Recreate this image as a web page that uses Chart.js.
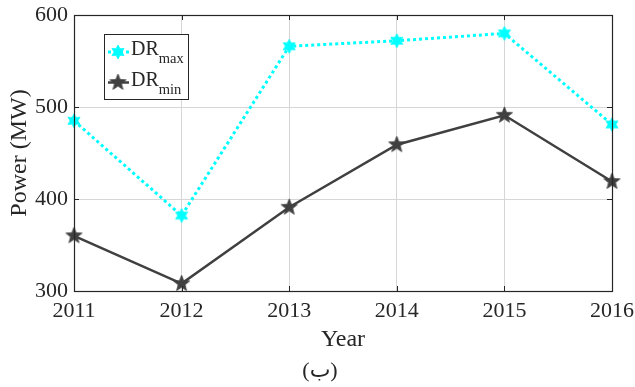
<!DOCTYPE html>
<html>
<head>
<meta charset="utf-8">
<script src="https://cdn.jsdelivr.net/npm/chart.js@4/dist/chart.umd.min.js"></script>
<style>
  html, body { margin: 0; padding: 0; background: #fff; }
  #wrap { width: 635px; height: 387px; position: relative; }
</style>
</head>
<body>
<div id="wrap"><canvas id="c" width="635" height="387"></canvas></div>
<script>
// Yearly power demand range (MW)
const years = ['2011', '2012', '2013', '2014', '2015', '2016'];
const drMax = [485, 382, 566, 572, 580, 481];
const drMin = [360, 308, 391, 459, 491, 419];
const yTicks = [300, 400, 500, 600];
const seriesNames = [['DR', 'max'], ['DR', 'min']];
const xTitle = 'Year';
const yTitle = 'Power (MW)';
const caption = '(ب)';

const SERIF = '"Liberation Serif", "Times New Roman", serif';
const INK = '#262626';
const CYAN = '#00ffff';
const DARK = '#404040';

// Filled star marker rendered to a small canvas for use as a pointStyle
function starImage(points, outer, inner, color) {
  const s = Math.ceil(outer * 2 + 4);
  const cv = document.createElement('canvas');
  cv.width = s; cv.height = s;
  const g = cv.getContext('2d');
  g.translate(s / 2, s / 2);
  g.beginPath();
  for (let i = 0; i < points * 2; i++) {
    const r = i % 2 === 0 ? outer : inner;
    const a = -Math.PI / 2 + i * Math.PI / points;
    const x = r * Math.cos(a), y = r * Math.sin(a);
    if (i === 0) g.moveTo(x, y); else g.lineTo(x, y);
  }
  g.closePath();
  g.fillStyle = color;
  g.fill();
  g.lineWidth = 0.8;
  g.strokeStyle = color;
  g.stroke();
  return cv;
}
const hexStar = starImage(6, 7, 3.8, CYAN);
const pentStar = starImage(5, 8.5, 3.6, DARK);

// Frame, inward ticks, legend and caption
const decor = {
  id: 'decor',
  afterDraw(chart) {
    const { ctx, chartArea: a, scales } = chart;
    ctx.save();
    // inward tick marks on all four sides
    ctx.strokeStyle = INK;
    ctx.lineWidth = 1;
    const tl = 5;
    ctx.beginPath();
    scales.x.ticks.forEach((t, i) => {
      const x = Math.round(scales.x.getPixelForTick(i)) + 0.5;
      ctx.moveTo(x, a.bottom); ctx.lineTo(x, a.bottom - tl);
      ctx.moveTo(x, a.top); ctx.lineTo(x, a.top + tl);
    });
    scales.y.ticks.forEach((t, i) => {
      const y = Math.round(scales.y.getPixelForTick(i)) + 0.5;
      ctx.moveTo(a.left, y); ctx.lineTo(a.left + tl, y);
      ctx.moveTo(a.right, y); ctx.lineTo(a.right - tl, y);
    });
    ctx.stroke();
    // axes box
    ctx.strokeStyle = INK;
    ctx.lineWidth = 1.2;
    ctx.strokeRect(Math.round(a.left) + 0.5, Math.round(a.top) + 0.5,
                   Math.round(a.right - a.left), Math.round(a.bottom - a.top));

    // legend
    const lx = 104, ly = 34, lw = 84, lh = 65;
    ctx.fillStyle = '#fff';
    ctx.fillRect(lx, ly, lw, lh);
    ctx.strokeStyle = INK;
    ctx.lineWidth = 1;
    ctx.strokeRect(lx + 0.5, ly + 0.5, lw, lh);
    const rows = [
      { y: 52, color: CYAN, dash: [3, 3], width: 3, img: hexStar },
      { y: 82.5, color: DARK, dash: [], width: 2.5, img: pentStar }
    ];
    rows.forEach((r, i) => {
      ctx.save();
      ctx.strokeStyle = r.color;
      ctx.lineWidth = r.width;
      ctx.setLineDash(r.dash);
      ctx.beginPath();
      ctx.moveTo(lx + 4, r.y); ctx.lineTo(lx + 25, r.y);
      ctx.stroke();
      ctx.restore();
      ctx.drawImage(r.img, lx + 14 - r.img.width / 2, r.y - r.img.height / 2);
      ctx.fillStyle = INK;
      ctx.textBaseline = 'alphabetic';
      ctx.textAlign = 'left';
      ctx.font = '20px ' + SERIF;
      const base = r.y + 3;
      ctx.fillText(seriesNames[i][0], lx + 27, base);
      const w = ctx.measureText(seriesNames[i][0]).width;
      ctx.font = '14.5px ' + SERIF;
      ctx.fillText(seriesNames[i][1], lx + 27 + w, base + 8);
    });

    // caption
    ctx.fillStyle = INK;
    ctx.font = '22px ' + SERIF + ', "DejaVu Sans"';
    ctx.textAlign = 'center';
    ctx.textBaseline = 'middle';
    ctx.fillText(caption, 320, 371);
    ctx.restore();
  }
};

new Chart(document.getElementById('c'), {
  type: 'line',
  data: {
    labels: years,
    datasets: [
      {
        label: seriesNames[0].join(''),
        data: drMax,
        borderColor: CYAN,
        backgroundColor: CYAN,
        borderWidth: 3,
        borderDash: [3, 3],
        pointStyle: hexStar,
        pointRadius: 7,
        tension: 0
      },
      {
        label: seriesNames[1].join(''),
        data: drMin,
        borderColor: DARK,
        backgroundColor: DARK,
        borderWidth: 2.5,
        pointStyle: pentStar,
        pointRadius: 8,
        tension: 0
      }
    ]
  },
  options: {
    responsive: false,
    animation: false,
    devicePixelRatio: 1,
    layout: { padding: { top: 15, right: 23, left: 0, bottom: 0 } },
    plugins: { legend: { display: false }, tooltip: { enabled: false } },
    scales: {
      x: {
        type: 'category',
        offset: false,
        afterFit(s) { s.height = 96; s.paddingLeft = 0; s.paddingRight = 0; },
        grid: { color: '#d6d6d6', lineWidth: 1, drawTicks: false },
        border: { display: false },
        ticks: { color: INK, font: { family: SERIF, size: 22 }, padding: 7, maxRotation: 0, autoSkip: false },
        title: { display: true, text: xTitle, color: INK, font: { family: SERIF, size: 24 }, padding: { top: 0, bottom: 33 } }
      },
      y: {
        min: 300,
        max: 600,
        afterFit(s) { s.width = 74; s.paddingTop = 0; s.paddingBottom = 0; },
        afterBuildTicks(s) { s.ticks = yTicks.map(v => ({ value: v })); },
        grid: { color: '#d6d6d6', lineWidth: 1, drawTicks: false },
        border: { display: false },
        ticks: { color: INK, font: { family: SERIF, size: 22 }, padding: 6 },
        title: { display: true, text: yTitle, color: INK, font: { family: SERIF, size: 24 }, padding: { top: 5, bottom: 0 } }
      }
    }
  },
  plugins: [decor]
});
</script>
</body>
</html>
